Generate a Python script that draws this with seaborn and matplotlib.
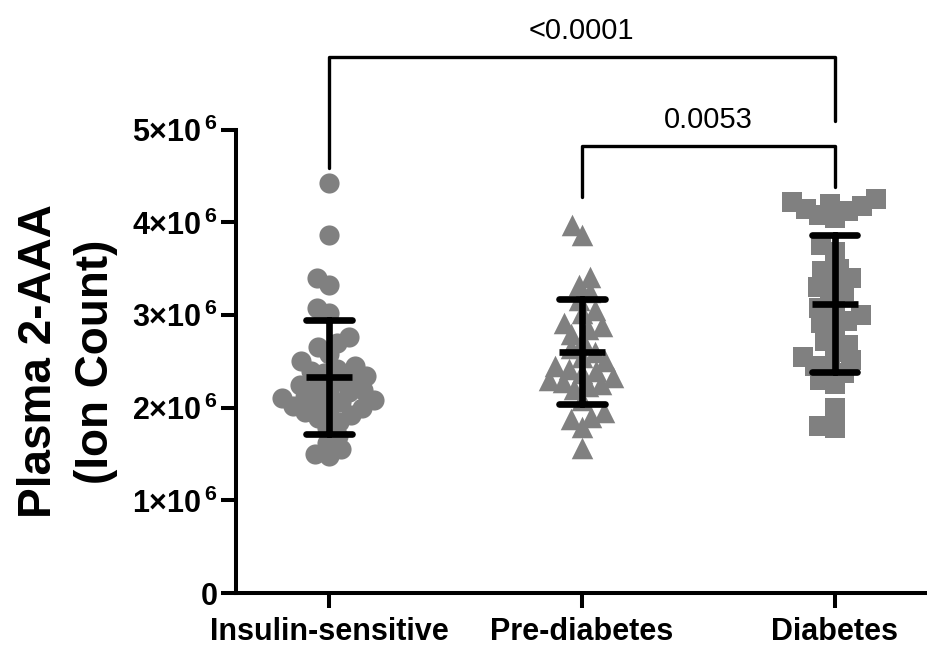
import numpy as np
import pandas as pd
import matplotlib
matplotlib.use("Agg")
import matplotlib.pyplot as plt
import seaborn as sns
from matplotlib.ticker import FuncFormatter

# values (ion count, x10^6)
groups = ["Insulin-sensitive", "Pre-diabetes", "Diabetes"]
markers = ["o", "^", "s"]
insulin_sensitive = [4.43, 3.87, 3.40, 3.33, 3.08, 3.02, 2.76, 2.70, 2.66, 2.58,
                     2.50, 2.45, 2.42, 2.40, 2.37, 2.34, 2.31, 2.28, 2.25, 2.22,
                     2.19, 2.17, 2.15, 2.12, 2.10, 2.08, 2.06, 2.04, 2.02, 2.00,
                     1.98, 1.95, 1.92, 1.89, 1.85, 1.78, 1.70, 1.62, 1.55, 1.50, 1.48]
pre_diabetes = [3.97, 3.87, 3.41, 3.33, 3.25, 3.16, 3.05, 3.02, 2.92, 2.88,
                2.85, 2.80, 2.72, 2.64, 2.60, 2.55, 2.50, 2.45, 2.42, 2.40,
                2.38, 2.33, 2.30, 2.28, 2.26, 2.24, 2.20, 2.08, 1.95, 1.90,
                1.88, 1.79, 1.57]
diabetes = [4.25, 4.22, 4.20, 4.18, 4.15, 4.12, 4.08, 4.05, 3.76, 3.68,
            3.50, 3.48, 3.40, 3.36, 3.30, 3.26, 3.20, 3.08, 3.05, 3.00,
            2.94, 2.92, 2.85, 2.72, 2.68, 2.60, 2.55, 2.52, 2.45, 2.42,
            2.38, 2.30, 2.26, 2.00, 1.80, 1.78]
p_values = ["<0.0001", "0.0053"]

all_vals = [insulin_sensitive, pre_diabetes, diabetes]
df = pd.DataFrame({
    "group": np.repeat(groups, [len(v) for v in all_vals]),
    "value": np.concatenate(all_vals) * 1e6,
})

sns.set_style("ticks")
plt.rcParams["font.family"] = ["Liberation Sans", "DejaVu Sans"]
plt.rcParams["mathtext.fontset"] = "custom"
plt.rcParams["mathtext.rm"] = "Liberation Sans:bold"
plt.rcParams["mathtext.default"] = "rm"
plt.rcParams["text.color"] = "black"
plt.rcParams["axes.edgecolor"] = "black"
plt.rcParams["xtick.color"] = "black"
plt.rcParams["ytick.color"] = "black"
plt.rcParams["axes.labelcolor"] = "black"

fig = plt.figure(figsize=(9.28, 6.46), dpi=100)
ax = fig.add_axes([0.254, 0.082, 0.746, 0.717])

# swarm laid out with a smaller marker so the larger dots overlap like the original
layout_size = {"o": 9.5, "^": 9.5, "s": 10.5}
swarm = []
for g, m in zip(groups, markers):
    n0 = len(ax.collections)
    sub = df[df["group"] == g]
    sns.swarmplot(data=sub, x="group", y="value", order=groups, marker=m,
                  color="#808080", size=layout_size[m], linewidth=0, ax=ax,
                  warn_thresh=1)
    swarm += [(c, m) for c in ax.collections[n0:]]
ax.set_xlim(-0.37, 2.37)
ax.set_ylim(0, 5e6)
fig.canvas.draw()
final_size = {"o": 14.5, "^": 15.5, "s": 14.0}
for c, m in swarm:
    if "draw" in c.__dict__:
        del c.draw
    c.set_sizes([final_size[m] ** 2])

sns.pointplot(data=df, x="group", y="value", order=groups, errorbar="sd",
              capsize=0.18, linestyle="none", marker="_", markersize=33,
              markeredgewidth=4.8, color="black",
              err_kws={"linewidth": 4.8}, ax=ax, zorder=5)

ax.set_xlim(-0.37, 2.37)
ax.set_ylim(0, 5e6)
ax.set_yticks(np.arange(0, 5.1e6, 1e6))
ax.yaxis.set_major_formatter(FuncFormatter(
    lambda v, p: "0" if v == 0 else f"{int(round(v / 1e6))}×10$^{{\\,6}}$"))
ax.set_xlabel("")
ax.set_ylabel("Plasma 2-AAA\n(Ion Count)", fontsize=33, fontweight="bold",
              linespacing=1.38)
ax.yaxis.set_label_coords(-0.17, 0.5)

for lab in ax.get_xticklabels() + ax.get_yticklabels():
    lab.set_fontweight("bold")
ax.tick_params(axis="x", labelsize=22, width=2.9, length=11, pad=6)
ax.tick_params(axis="y", labelsize=22, width=2.9, length=11, pad=2)
sns.despine(ax=ax)
for s in ["left", "bottom"]:
    ax.spines[s].set_linewidth(2.9)

# significance brackets
ax.plot([0, 0, 2, 2], [4.59e6, 5.79e6, 5.79e6, 5.10e6], color="black",
        lw=2.4, clip_on=False)
ax.plot([1, 1, 2, 2], [4.28e6, 4.83e6, 4.83e6, 4.38e6], color="black",
        lw=2.4, clip_on=False)
ax.text(1.0, 6.07e6, p_values[0], ha="center", va="center", fontsize=21)
ax.text(1.5, 5.11e6, p_values[1], ha="center", va="center", fontsize=21)

fig.savefig("out.png", dpi=100)
